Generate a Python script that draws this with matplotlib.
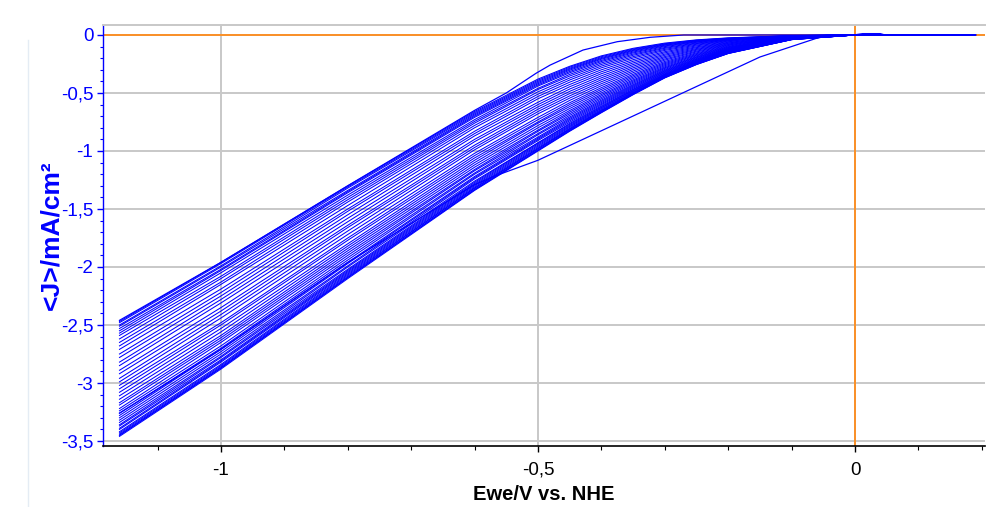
import matplotlib
matplotlib.use('Agg')
import matplotlib.pyplot as plt
from matplotlib.ticker import MultipleLocator, FixedLocator, FixedFormatter
from matplotlib.lines import Line2D

# ---------------- data ----------------
# potentials (V vs NHE) at which every sweep is sampled
E_knots = [-1.16, -1.0, -0.8, -0.6, -0.5, -0.45, -0.4, -0.35, -0.3, -0.25, -0.2, -0.1]
# current density of each sweep (mA/cm2) at each potential above (44 sweeps)
J_at_m116 = [-2.47, -2.48, -2.50, -2.51, -2.53, -2.55, -2.57, -2.59, -2.62, -2.65, -2.68,
             -2.71, -2.75, -2.78, -2.82, -2.85, -2.89, -2.92, -2.96, -2.99, -3.02, -3.05,
             -3.08, -3.11, -3.14, -3.17, -3.19, -3.22, -3.24, -3.26, -3.28, -3.30, -3.32,
             -3.34, -3.36, -3.37, -3.39, -3.40, -3.42, -3.43, -3.44, -3.45, -3.45, -3.46]
J_at_m100 = [-1.96, -1.97, -1.99, -2.00, -2.02, -2.03, -2.05, -2.08, -2.10, -2.13, -2.15,
             -2.19, -2.22, -2.25, -2.28, -2.31, -2.35, -2.38, -2.41, -2.44, -2.48, -2.50,
             -2.53, -2.56, -2.59, -2.61, -2.63, -2.65, -2.68, -2.70, -2.71, -2.73, -2.75,
             -2.77, -2.78, -2.80, -2.81, -2.82, -2.84, -2.85, -2.86, -2.87, -2.87, -2.88]
J_at_m080 = [-1.30, -1.31, -1.32, -1.34, -1.35, -1.36, -1.38, -1.40, -1.42, -1.44, -1.47,
             -1.50, -1.52, -1.55, -1.58, -1.61, -1.64, -1.66, -1.69, -1.72, -1.75, -1.77,
             -1.80, -1.82, -1.84, -1.86, -1.88, -1.90, -1.92, -1.94, -1.96, -1.97, -1.99,
             -2.00, -2.02, -2.03, -2.04, -2.05, -2.06, -2.07, -2.08, -2.09, -2.09, -2.10]
J_at_m060 = [-0.66, -0.67, -0.68, -0.69, -0.70, -0.71, -0.73, -0.745, -0.76, -0.78, -0.80,
             -0.83, -0.85, -0.87, -0.90, -0.92, -0.95, -0.97, -0.99, -1.02, -1.04, -1.06,
             -1.08, -1.10, -1.12, -1.14, -1.16, -1.17, -1.19, -1.20, -1.22, -1.23, -1.24,
             -1.26, -1.27, -1.28, -1.29, -1.30, -1.31, -1.32, -1.32, -1.33, -1.335, -1.34]
J_at_m050 = [-0.38, -0.39, -0.40, -0.41, -0.42, -0.43, -0.44, -0.46, -0.47, -0.49, -0.51,
             -0.53, -0.55, -0.58, -0.60, -0.62, -0.64, -0.66, -0.68, -0.71, -0.73, -0.75,
             -0.76, -0.78, -0.80, -0.82, -0.83, -0.85, -0.86, -0.88, -0.89, -0.90, -0.91,
             -0.93, -0.93, -0.94, -0.95, -0.96, -0.97, -0.98, -0.98, -0.99, -0.995, -1.00]
J_at_m045 = [-0.270, -0.278, -0.287, -0.295, -0.304, -0.315, -0.326, -0.340, -0.354, -0.371,
             -0.388, -0.407, -0.427, -0.446, -0.466, -0.486, -0.505, -0.525, -0.544, -0.564,
             -0.584, -0.600, -0.617, -0.634, -0.651, -0.665, -0.679, -0.693, -0.707, -0.718,
             -0.729, -0.740, -0.752, -0.763, -0.771, -0.780, -0.788, -0.796, -0.805, -0.810,
             -0.816, -0.822, -0.826, -0.830]
J_at_m040 = [-0.180, -0.187, -0.195, -0.202, -0.209, -0.219, -0.229, -0.241, -0.254, -0.268,
             -0.283, -0.300, -0.317, -0.334, -0.352, -0.369, -0.386, -0.403, -0.420, -0.437,
             -0.454, -0.469, -0.484, -0.499, -0.513, -0.525, -0.538, -0.550, -0.562, -0.572,
             -0.582, -0.592, -0.601, -0.611, -0.619, -0.626, -0.633, -0.641, -0.648, -0.653,
             -0.658, -0.663, -0.667, -0.670]
J_at_m035 = [-0.115, -0.121, -0.127, -0.133, -0.139, -0.147, -0.155, -0.165, -0.175, -0.187,
             -0.199, -0.213, -0.227, -0.241, -0.255, -0.269, -0.283, -0.297, -0.311, -0.325,
             -0.339, -0.351, -0.363, -0.375, -0.387, -0.397, -0.407, -0.417, -0.427, -0.435,
             -0.443, -0.451, -0.459, -0.467, -0.473, -0.479, -0.485, -0.491, -0.497, -0.501,
             -0.505, -0.509, -0.512, -0.515]
J_at_m030 = [-0.070, -0.075, -0.079, -0.084, -0.088, -0.094, -0.100, -0.108, -0.115, -0.124,
             -0.133, -0.144, -0.154, -0.165, -0.175, -0.186, -0.196, -0.207, -0.217, -0.228,
             -0.238, -0.247, -0.256, -0.265, -0.274, -0.282, -0.289, -0.297, -0.304, -0.310,
             -0.316, -0.322, -0.328, -0.334, -0.339, -0.343, -0.348, -0.352, -0.357, -0.360,
             -0.363, -0.366, -0.368, -0.370]
J_at_m025 = [-0.042, -0.045, -0.048, -0.052, -0.055, -0.059, -0.063, -0.069, -0.074, -0.080,
             -0.087, -0.094, -0.102, -0.109, -0.117, -0.124, -0.131, -0.139, -0.146, -0.154,
             -0.161, -0.168, -0.174, -0.180, -0.187, -0.192, -0.197, -0.203, -0.208, -0.212,
             -0.217, -0.221, -0.225, -0.229, -0.233, -0.236, -0.239, -0.242, -0.245, -0.248,
             -0.250, -0.252, -0.254, -0.255]
J_at_m020 = [-0.025, -0.027, -0.029, -0.031, -0.033, -0.036, -0.039, -0.042, -0.045, -0.049,
             -0.053, -0.058, -0.063, -0.068, -0.072, -0.077, -0.082, -0.086, -0.091, -0.096,
             -0.101, -0.105, -0.109, -0.113, -0.117, -0.120, -0.124, -0.127, -0.130, -0.133,
             -0.136, -0.138, -0.141, -0.144, -0.146, -0.148, -0.150, -0.152, -0.154, -0.155,
             -0.157, -0.158, -0.159, -0.160]
J_at_m010 = [-0.005, -0.006, -0.006, -0.007, -0.007, -0.008, -0.009, -0.009, -0.010, -0.011,
             -0.012, -0.014, -0.015, -0.016, -0.017, -0.019, -0.020, -0.021, -0.022, -0.023,
             -0.025, -0.026, -0.027, -0.028, -0.029, -0.030, -0.031, -0.031, -0.032, -0.033,
             -0.034, -0.034, -0.035, -0.036, -0.036, -0.037, -0.037, -0.038, -0.038, -0.039,
             -0.039, -0.040, -0.040, -0.040]
# common tail of every sweep (J ~ 0 for E >= 0)
tail_E = [0.0, 0.19]
tail_J = [0.0, 0.0]

# first (sparse) sweep – the straight line below the bundle on the right
first_E = [0.19, 0.0, -0.045, -0.15, -0.50, -0.57, -0.60, -0.80, -1.00, -1.16]
first_J = [0.0, 0.0, 0.0, -0.19, -1.08, -1.22, -1.29, -1.96, -2.71, -3.26]
# sweep lying just above the bundle between -0.5 and -0.27 V
upper_E = [0.19, -0.27, -0.323, -0.375, -0.429, -0.481, -0.503, -0.55, -0.60, -0.80, -1.00, -1.16]
upper_J = [0.0, 0.0, -0.02, -0.058, -0.13, -0.26, -0.33, -0.50, -0.65, -1.30, -1.96, -2.46]
# small positive bump just right of 0 V
bump_E = [0.0, 0.012, 0.04, 0.046]
bump_J = [0.0, 0.010, 0.010, 0.0]

x_ticks = [-1.0, -0.5, 0.0]
x_tick_labels = ['-1', '-0,5', '0']
y_ticks = [0.0, -0.5, -1.0, -1.5, -2.0, -2.5, -3.0, -3.5]
y_tick_labels = ['0', '-0,5', '-1', '-1,5', '-2', '-2,5', '-3', '-3,5']

# ---------------- figure ----------------
plt.rcParams['font.family'] = ['Liberation Sans', 'DejaVu Sans']
W, H = 989, 507
fig = plt.figure(figsize=(W / 100, H / 100), dpi=100)
ax = fig.add_axes([103 / W, 1 - 446 / H, (985 - 103) / W, (446 - 25) / H])

BLUE = '#0000ff'
ORANGE = '#ff8c1a'
GRID = '#c8c8c8'

per_knot = [J_at_m116, J_at_m100, J_at_m080, J_at_m060, J_at_m050, J_at_m045,
            J_at_m040, J_at_m035, J_at_m030, J_at_m025, J_at_m020, J_at_m010]
n_sweeps = len(J_at_m116)
for i in range(n_sweeps):
    E = list(E_knots) + tail_E
    J = [col[i] for col in per_knot] + tail_J
    ax.plot(E, J, color=BLUE, lw=0.75, zorder=3)

ax.plot(first_E, first_J, color=BLUE, lw=0.9, zorder=3)
ax.plot(upper_E, upper_J, color=BLUE, lw=0.9, zorder=3)
ax.plot(bump_E, bump_J, color=BLUE, lw=1.2, zorder=3)

# orange zero lines
ax.axhline(0, color=ORANGE, lw=1.3, zorder=2)
ax.axvline(0, color=ORANGE, lw=1.3, zorder=2)

ax.set_xlim(-1.186, 0.205)
ax.set_ylim(-3.543, 0.086)

ax.xaxis.set_major_locator(FixedLocator(x_ticks))
ax.xaxis.set_major_formatter(FixedFormatter(x_tick_labels))
ax.xaxis.set_minor_locator(MultipleLocator(0.1))
ax.yaxis.set_major_locator(FixedLocator(y_ticks))
ax.yaxis.set_major_formatter(FixedFormatter(y_tick_labels))
ax.yaxis.set_minor_locator(MultipleLocator(0.1))

ax.grid(True, which='major', color=GRID, lw=1.4, zorder=1)
ax.set_axisbelow(True)

ax.spines['right'].set_visible(False)
ax.spines['top'].set_color(GRID)
ax.spines['top'].set_linewidth(1.4)
ax.spines['left'].set_color(BLUE)
ax.spines['left'].set_linewidth(1.0)
ax.spines['bottom'].set_color('black')
ax.spines['bottom'].set_linewidth(1.2)

ax.tick_params(axis='y', which='major', colors=BLUE, labelcolor=BLUE,
               length=4, width=1, labelsize=13.5, pad=3, direction='out')
ax.tick_params(axis='y', which='minor', colors=BLUE, length=2.5, width=0.8, direction='out')
ax.tick_params(axis='x', which='major', colors='black', labelcolor='black',
               length=4.5, width=1, labelsize=13.5, pad=7, direction='out')
ax.tick_params(axis='x', which='minor', colors='black', length=3, width=0.8, direction='out')

fig.text(0.5 * (103 + 985) / W, 1 - 494 / H, 'Ewe/V vs. NHE', ha='center', va='center',
         fontsize=14.5, fontweight='bold', color='black')
fig.text(51 / W, 1 - 235 / H, '<J>/mA/cm²', ha='center', va='center', rotation=90,
         fontsize=19, fontweight='bold', color=BLUE)

# faint frame line on the far left of the window
fig.add_artist(Line2D([28 / W, 28 / W], [0, 1 - 40 / H], transform=fig.transFigure,
                      color='#e4ecf4', lw=1.0))

fig.savefig('out.png', dpi=100)
